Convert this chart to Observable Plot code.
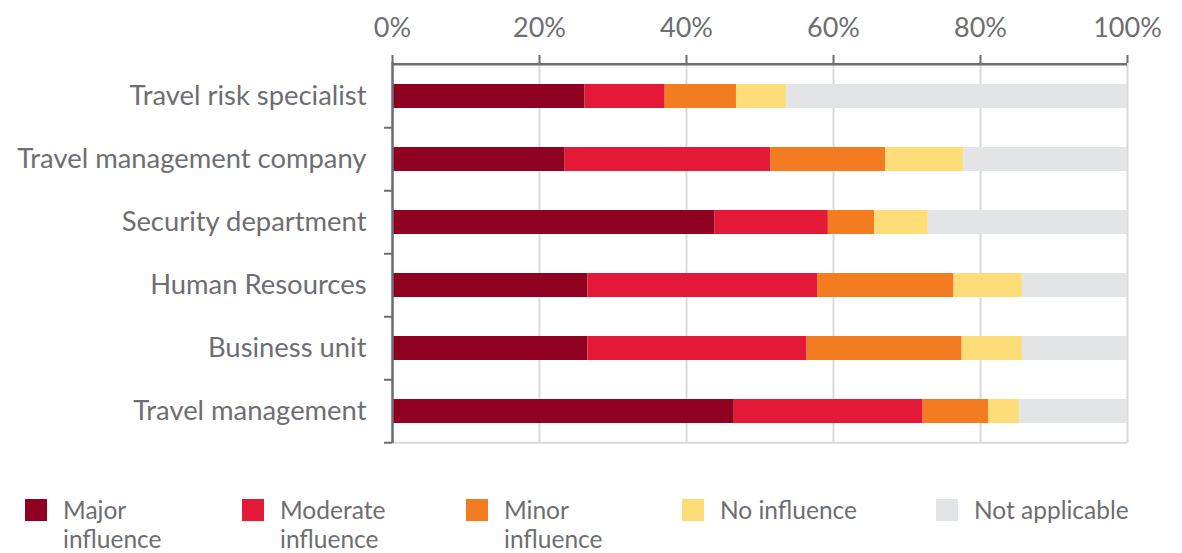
<!DOCTYPE html>
<html>
<head>
<meta charset="utf-8">
<script src="https://cdn.jsdelivr.net/npm/d3@7"></script>
<script src="https://cdn.jsdelivr.net/npm/@observablehq/plot@0.6"></script>
<style>
  body { margin: 0; background: #fff; font-family: Lato, "Open Sans", sans-serif; color: #6d6e71; }
  #chart svg { display: block; }
  #legend { position: relative; height: 70px; margin-top: 35px; font-size: 24.5px; line-height: 29px; }
  .item { position: absolute; top: 0; display: flex; align-items: flex-start; }
  .sw { width: 22px; height: 22px; margin-top: 4px; margin-right: 16px; flex: none; }
</style>
</head>
<body>
<div id="chart"></div>
<div id="legend"></div>
<script>
const categories = ["Travel risk specialist", "Travel management company", "Security department", "Human Resources", "Business unit", "Travel management"];
const series = ["Major influence", "Moderate influence", "Minor influence", "No influence", "Not applicable"];
const colors = ["#900020", "#e31937", "#f47c20", "#fedd78", "#e3e4e6"];
const majorVals    = [26.2, 23.5, 43.9, 26.6, 26.6, 46.5];
const moderateVals = [10.9, 28.0, 15.4, 31.3, 29.8, 25.7];
const minorVals    = [9.7, 15.6, 6.3, 18.5, 21.1, 8.9];
const noVals       = [6.8, 10.6, 7.3, 9.3, 8.2, 4.2];
const naVals       = [46.4, 22.3, 27.1, 14.3, 14.3, 14.7];
const xTicks = [0, 20, 40, 60, 80, 100];

const valueLists = [majorVals, moderateVals, minorVals, noVals, naVals];
const data = [];
categories.forEach((c, i) => series.forEach((s, j) => data.push({category: c, series: s, value: valueLists[j][i]})));

const W = 1182, H = 460, mT = 62, mB = 17, mL = 392, mR = 55;
const half = (H - mT - mB) / categories.length / 2;
const grey = "#6d6e71";

const plot = Plot.plot({
  width: W, height: H,
  marginTop: mT, marginBottom: mB, marginLeft: mL, marginRight: mR,
  style: {fontFamily: "Lato, 'Open Sans', sans-serif", color: grey, background: "#fff"},
  x: {domain: [0, 100]},
  y: {domain: categories, padding: 0},
  color: {domain: series, range: colors},
  marks: [
    Plot.ruleX(xTicks, {stroke: "#d9d9d9", strokeWidth: 2}),
    Plot.ruleY([categories[categories.length - 1]], {stroke: "#d9d9d9", strokeWidth: 2, dy: half}),
    Plot.barX(data, Plot.stackX({x: "value", y: "category", fill: "series", order: series, insetTop: 20, insetBottom: 19})),
    Plot.axisX(xTicks, {anchor: "top", tickSize: 8, tickPadding: 18, fontSize: 27, stroke: grey, strokeWidth: 2, tickFormat: d => d + "%", label: null, fill: grey}),
    Plot.ruleY([categories[0]], {stroke: grey, strokeWidth: 2.5, dy: -half}),
    Plot.ruleX([0], {stroke: grey, strokeWidth: 2.5}),
    Plot.axisY({anchor: "left", tickSize: 0, tickPadding: 26, fontSize: 27.4, label: null, fill: grey}),
    Plot.axisY({anchor: "left", tickSize: 8, text: null, stroke: grey, strokeWidth: 2, dy: half, label: null})
  ]
});
document.getElementById("chart").appendChild(plot);

const legendX = [25, 242, 466, 682, 936];
const labelW = [110, 120, 110, 200, 200];
const lg = document.getElementById("legend");
series.forEach((s, i) => {
  const it = document.createElement("div");
  it.className = "item";
  it.style.left = legendX[i] + "px";
  const sw = document.createElement("div");
  sw.className = "sw"; sw.style.background = colors[i];
  const tx = document.createElement("div");
  tx.textContent = s; tx.style.width = labelW[i] + "px";
  it.appendChild(sw); it.appendChild(tx);
  lg.appendChild(it);
});
</script>
</body>
</html>
